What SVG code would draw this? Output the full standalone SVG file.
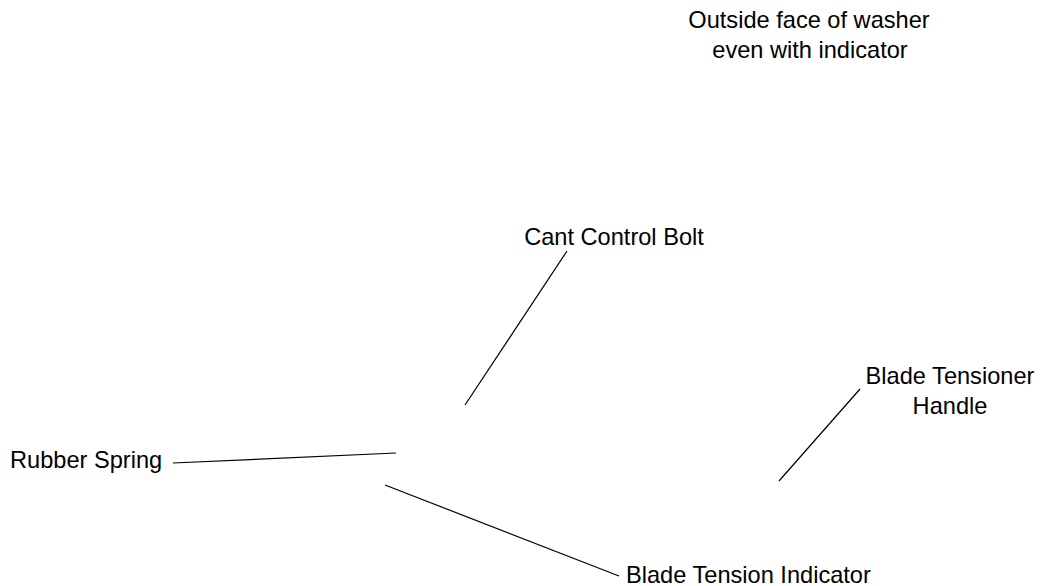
<svg xmlns="http://www.w3.org/2000/svg" width="1040" height="586" viewBox="0 0 1040 586">
<style>
text{font-family:"Liberation Sans",Arial,sans-serif;font-size:23.6px;fill:#000}
.c line{stroke:#000;stroke-width:1.2}
</style>
<rect width="1040" height="586" fill="#fff"/>
<g id="washer"><text x="809" y="28" text-anchor="middle">Outside face of washer</text><text x="810" y="58" text-anchor="middle">even with indicator</text></g>
<g id="cant"><text x="614" y="245" text-anchor="middle">Cant Control Bolt</text></g>
<g id="rubber"><text x="10" y="468">Rubber Spring</text></g>
<g id="indicator"><text x="626" y="583">Blade Tension Indicator</text></g>
<g id="handle"><text x="950" y="384" text-anchor="middle">Blade Tensioner</text><text x="950" y="414" text-anchor="middle">Handle</text></g>
<g class="c" id="connectors">
<line x1="567" y1="251" x2="465" y2="405"/>
<line x1="173" y1="463" x2="396" y2="453"/>
<line x1="385" y1="485" x2="619" y2="576"/>
<line x1="860" y1="389" x2="779" y2="481"/>
</g>
</svg>
